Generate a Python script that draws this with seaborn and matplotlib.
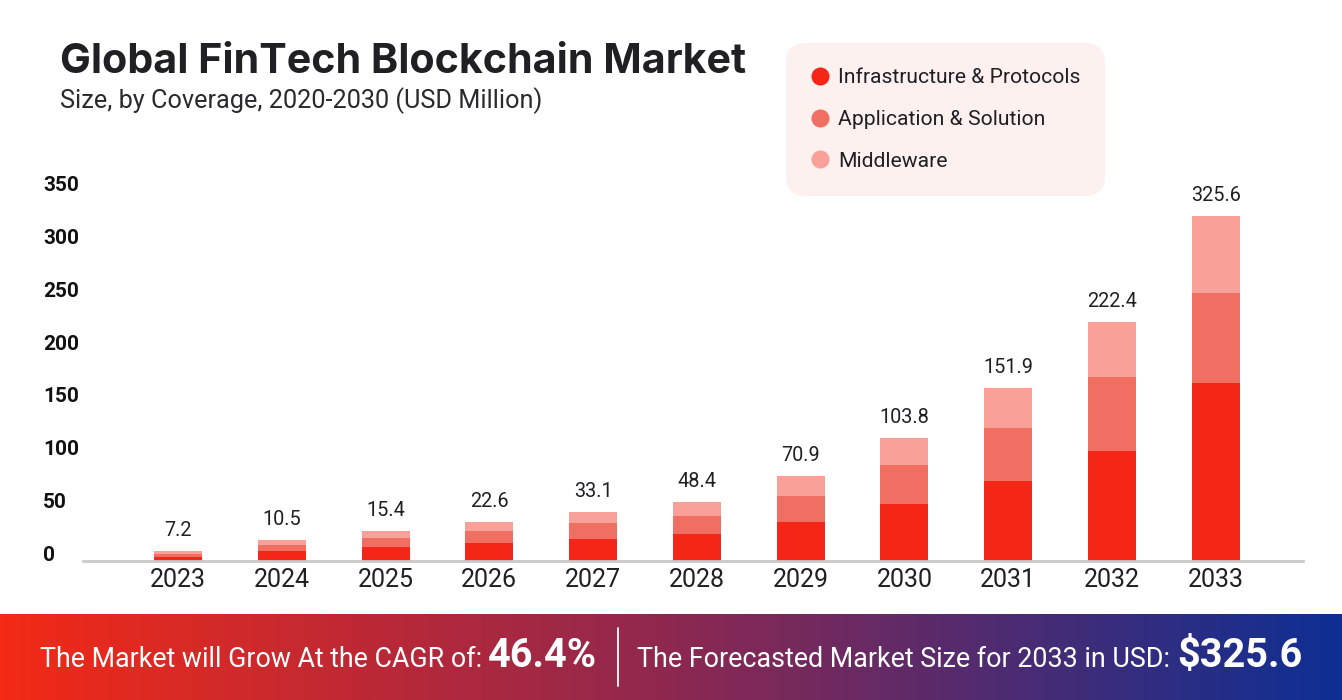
import numpy as np
import pandas as pd
import matplotlib
matplotlib.use("Agg")
import matplotlib.pyplot as plt
import seaborn as sns
from matplotlib.transforms import ScaledTranslation
from matplotlib.lines import Line2D
from matplotlib.colors import LinearSegmentedColormap

# ---------------- data ----------------
years = ["2023", "2024", "2025", "2026", "2027", "2028", "2029", "2030", "2031", "2032", "2033"]
infrastructure = [4.2, 9.2, 13.0, 16.7, 21.2, 25.5, 36.9, 54.3, 75.4, 103.8, 168.1]
application = [2.4, 5.7, 8.8, 11.7, 14.5, 17.1, 25.0, 36.2, 50.8, 70.7, 85.8]
middleware = [2.6, 4.7, 6.3, 8.2, 10.4, 12.9, 18.2, 25.6, 37.2, 51.3, 72.2]
total_labels = [7.2, 10.5, 15.4, 22.6, 33.1, 48.4, 70.9, 103.8, 151.9, 222.4, 325.6]
series_names = ["Infrastructure & Protocols", "Application & Solution", "Middleware"]
y_ticks = [0, 50, 100, 150, 200, 250, 300, 350]
cagr_value = "46.4%"
forecast_value = "$325.6"

# ---------------- style ----------------
C_RED = "#F32617"
C_MID = "#F16E62"
C_LIGHT = "#F9A099"
TXT = "#1f1f24"

sns.set_theme(style="white")
plt.rcParams["font.family"] = ["Roboto", "DejaVu Sans"]

W, H = 1342, 700
fig = plt.figure(figsize=(W / 100, H / 100), dpi=100)
fig.patch.set_facecolor("white")

def fx(x):
    return x / W

def fy(y):
    return 1 - y / H

base_px = 561.0
px_per_unit = 1.057
ymax = 350
ax_h = ymax * px_per_unit
ax = fig.add_axes([fx(83), (H - base_px) / H, (1303 - 83) / W, ax_h / H])

df = pd.DataFrame({
    "year": years,
    "infra": infrastructure,
    "app": application,
    "mid": middleware,
})
df["cum_app"] = df["infra"] + df["app"]
df["cum_all"] = df["cum_app"] + df["mid"]

bw = 0.462
sns.barplot(data=df, x="year", y="cum_all", color=C_LIGHT, width=bw, saturation=1,
            errorbar=None, linewidth=0, ax=ax)
sns.barplot(data=df, x="year", y="cum_app", color=C_MID, width=bw, saturation=1,
            errorbar=None, linewidth=0, ax=ax)
sns.barplot(data=df, x="year", y="infra", color=C_RED, width=bw, saturation=1,
            errorbar=None, linewidth=0, ax=ax)

for i, (lab, v) in enumerate(zip(total_labels, df["cum_all"])):
    ax.annotate(f"{lab:.1f}", (i, v), xytext=(0, 11), textcoords="offset pixels",
                ha="center", va="bottom", fontsize=14.3, color=TXT, clip_on=False)

ax.set_xlim(-0.915, 10.84)
ax.set_ylim(0, ymax)
ax.set_xlabel("")
ax.set_ylabel("")
for s in ["top", "right", "left"]:
    ax.spines[s].set_visible(False)
ax.spines["bottom"].set_color("#c9c9c9")
ax.spines["bottom"].set_linewidth(2)
ax.grid(False)
ax.tick_params(axis="x", length=0, pad=5, labelsize=18, labelcolor=TXT)
ax.set_yticks(y_ticks)
ax.set_yticklabels([str(t) for t in y_ticks])
ax.tick_params(axis="y", length=0, pad=0, labelsize=15, labelcolor="#111111")
off = ScaledTranslation(-40 / 100, 7.5 / 100, fig.dpi_scale_trans)
for lbl in ax.get_yticklabels():
    lbl.set_ha("left")
    lbl.set_fontweight("bold")
    lbl.set_transform(lbl.get_transform() + off)

# ---------------- titles ----------------
fig.text(fx(60), fy(73), "Global FinTech Blockchain Market", fontsize=29.7, fontweight="bold",
         color=TXT, ha="left", va="baseline", family=["Inter", "DejaVu Sans"])
fig.text(fx(60), fy(108), "Size, by Coverage, 2020-2030 (USD Million)", fontsize=18.2,
         color="#2a2a2e", ha="left", va="baseline")

# ---------------- legend ----------------
handles = [Line2D([0], [0], marker="o", linestyle="none", markersize=13,
                  markerfacecolor=c, markeredgewidth=0) for c in (C_RED, C_MID, C_LIGHT)]
leg = fig.legend(handles, series_names, loc="upper left",
                 bbox_to_anchor=(fx(786), fy(43)), frameon=True, fancybox=True,
                 facecolor="#FDF1F0", edgecolor="none", framealpha=1,
                 fontsize=15.2, labelspacing=1.08, borderpad=1.19,
                 handlelength=0.85, handletextpad=0.42, borderaxespad=0)
leg.get_frame().set_boxstyle("round", pad=0, rounding_size=0.95)
for t in leg.get_texts():
    t.set_color(TXT)

# ---------------- bottom banner ----------------
band_top = 614
bax = fig.add_axes([0, 0, 1, (H - band_top) / H])
cmap = LinearSegmentedColormap.from_list("band", ["#F42A16", "#8E2850", "#0D2F94"])
grad = np.linspace(0, 1, 512).reshape(1, -1)
bax.imshow(grad, aspect="auto", cmap=cmap, extent=[0, 1, 0, 1])
bax.set_axis_off()

fig.canvas.draw()
renderer = fig.canvas.get_renderer()

def place(x_px, text, size, weight="normal"):
    t = fig.text(fx(x_px), fy(667), text, fontsize=size, fontweight=weight,
                 color="white", ha="left", va="baseline")
    bb = t.get_window_extent(renderer=renderer)
    return bb.x1

x1 = place(40, "The Market will Grow At the CAGR of:", 19.3)
place(x1 + 6, cagr_value, 28.5, "bold")
fig.add_artist(Line2D([fx(618), fx(618)], [fy(628), fy(686)], color="white", lw=1.3))
x2 = place(637, "The Forecasted Market Size for 2033 in USD:", 19.4)
place(x2 + 7, forecast_value, 28.5, "bold")

fig.savefig("out.png", dpi=100, facecolor="white")
